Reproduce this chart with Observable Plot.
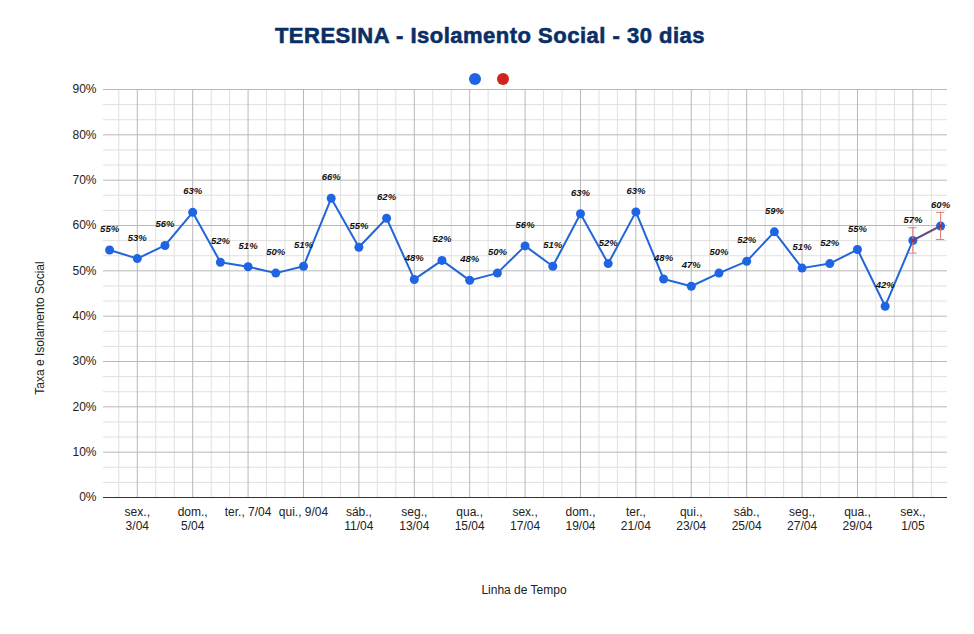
<!DOCTYPE html>
<html>
<head>
<meta charset="utf-8">
<script src="https://cdn.jsdelivr.net/npm/d3@7"></script>
<script src="https://cdn.jsdelivr.net/npm/@observablehq/plot@0.6"></script>
<style>
  body { margin: 0; background: #fff; font-family: "Liberation Sans", Arial, sans-serif; }
  #wrap { position: relative; width: 974px; height: 634px; }
  #title { position: absolute; left: 3px; width: 974px; top: 23px; text-align: center;
           font-size: 22px; font-weight: bold; color: #0a2f66; letter-spacing: 0.5px;
           -webkit-text-stroke: 0.6px #0a2f66; }
  .leg { position: absolute; top: 73px; width: 12px; height: 12px; border-radius: 50%; }
  .atitle { position: absolute; font-size: 12px; color: #222; white-space: nowrap; }
  #chart svg { display: block; }
</style>
</head>
<body>
<div id="wrap">
  <div id="chart"></div>
  <div id="title">TERESINA - Isolamento Social - 30 dias</div>
  <div class="leg" style="left:469px;background:#1f65e3"></div>
  <div class="leg" style="left:497px;background:#d0241b"></div>
  <div class="atitle" style="left:40px;top:328px;transform:translate(-50%,-50%) rotate(-90deg)">Taxa e Isolamento Social</div>
  <div class="atitle" style="left:524px;top:590px;transform:translate(-50%,-50%)">Linha de Tempo</div>
</div>
<script>
// Day index: 0 = qui., 2/04 ... 30 = sáb., 2/05
const isolamento = [54.6, 52.7, 55.6, 62.9, 51.9, 50.9, 49.5, 51.0, 66.0, 55.2,
                    61.6, 48.1, 52.3, 47.9, 49.5, 55.5, 51.0, 62.6, 51.6, 63.0,
                    48.2, 46.6, 49.5, 52.1, 58.6, 50.6, 51.6, 54.7, 42.2, 56.7, 59.9];
const serie2Dias = [29, 30];
const serie2Valores = [56.7, 59.9];
const serie2Erro = [2.8, 3.0];

const tickDias = [1, 3, 5, 7, 9, 11, 13, 15, 17, 19, 21, 23, 25, 27, 29];
const tickLabels = ["sex.,\n3/04", "dom.,\n5/04", "ter., 7/04", "qui., 9/04", "sáb.,\n11/04",
                    "seg.,\n13/04", "qua.,\n15/04", "sex.,\n17/04", "dom.,\n19/04", "ter.,\n21/04",
                    "qui.,\n23/04", "sáb.,\n25/04", "seg.,\n27/04", "qua.,\n29/04", "sex.,\n1/05"];
const yTicks = [0, 10, 20, 30, 40, 50, 60, 70, 80, 90];

const data = isolamento.map((v, i) => ({i, v}));
const data2 = serie2Dias.map((d, k) => ({i: d, v: serie2Valores[k], e: serie2Erro[k]}));

// minor gridlines: thirds between major gridlines
const minorX = [];
for (let t = tickDias[0] - 2; t <= tickDias[tickDias.length - 1] + 2; t += 2) {
  minorX.push(t + 2 / 3, t + 4 / 3);
}
const xDomain = [-0.22, 30.25];
const minorXv = minorX.filter(x => x > xDomain[0] && x < xDomain[1]);
const minorY = [];
for (let t = 0; t < 90; t += 10) minorY.push(t + 10 / 3, t + 20 / 3);

const chart = Plot.plot({
  width: 974,
  height: 634,
  marginTop: 89,
  marginBottom: 137,
  marginLeft: 103,
  marginRight: 27,
  style: {fontFamily: "'Liberation Sans', Arial, sans-serif", fontSize: "12px", color: "#222", background: "#fff"},
  x: {domain: xDomain},
  y: {domain: [0, 90]},
  marks: [
    Plot.ruleX(minorXv, {stroke: "#e0e0e0", strokeWidth: 1}),
    Plot.ruleY(minorY, {stroke: "#e0e0e0", strokeWidth: 1}),
    Plot.ruleX(tickDias, {stroke: "#b8b8b8", strokeWidth: 1}),
    Plot.ruleY(yTicks.slice(1), {stroke: "#b8b8b8", strokeWidth: 1}),
    Plot.ruleY([0], {stroke: "#333", strokeWidth: 1}),
    Plot.axisY({ticks: yTicks, tickFormat: d => d + "%", tickSize: 0, tickPadding: 7, label: null, fill: "#222"}),
    Plot.axisX({ticks: tickDias, tickFormat: d => tickLabels[tickDias.indexOf(d)], tickSize: 0, tickPadding: 9,
                label: null, lineHeight: 1.15, fill: "#222"}),
    Plot.line(data, {x: "i", y: "v", stroke: "#2166d8", strokeWidth: 2}),
    Plot.dot(data, {x: "i", y: "v", r: 4.5, fill: "#1f65e3"}),
    Plot.text(data, {x: "i", y: "v", text: d => Math.round(d.v) + "%", dy: -21,
                     fontWeight: "bold", fontStyle: "italic", fontSize: 9.5, fill: "#111"}),
    Plot.ruleX(data2, {x: "i", y1: d => d.v - d.e, y2: d => d.v + d.e, stroke: "#e27c70", strokeWidth: 1}),
    Plot.ruleY(data2, {y: d => d.v - d.e, x1: d => d.i - 0.15, x2: d => d.i + 0.15, stroke: "#e27c70", strokeWidth: 1}),
    Plot.ruleY(data2, {y: d => d.v + d.e, x1: d => d.i - 0.15, x2: d => d.i + 0.15, stroke: "#e27c70", strokeWidth: 1}),
    Plot.line(data2, {x: "i", y: "v", stroke: "#c0241b", strokeWidth: 2, strokeOpacity: 0.45}),
    Plot.dot(data2, {x: "i", y: "v", r: 1.8, fill: "#c0241b"})
  ]
});
document.getElementById("chart").appendChild(chart);
</script>
</body>
</html>
